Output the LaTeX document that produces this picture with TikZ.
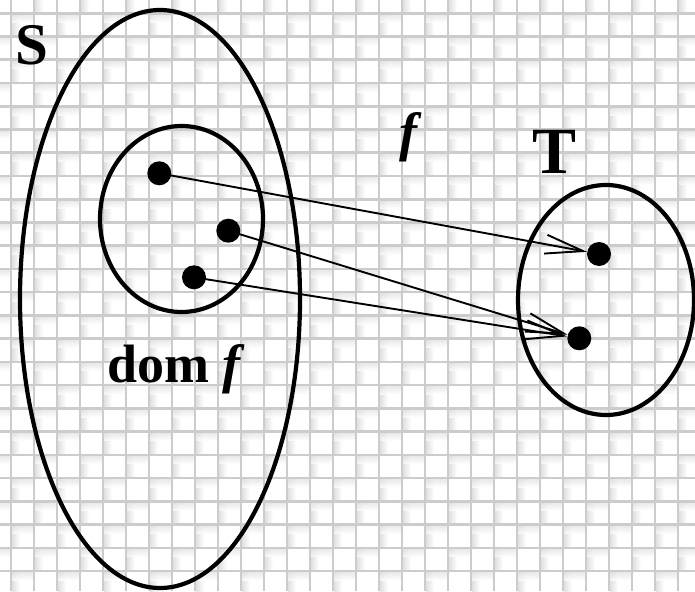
\documentclass[tikz,border=0pt]{standalone}
\usepackage{fontspec}
\setmainfont{Liberation Serif}
\usetikzlibrary{arrows.meta,shapes.geometric}
\begin{document}
\begin{tikzpicture}[x=1pt,y=-1pt,
  dot/.style={circle,fill=black,inner sep=0pt,minimum size=24pt},
  setline/.style={draw,ellipse,line width=4.2pt,inner sep=0pt},
  map/.style={line width=1.9pt,-{Straight Barb[length=38pt,width=19pt,line width=1.9pt]}},
  lab/.style={inner sep=0pt},
  gridline/.style={line width=2.6pt,color=black!20}]
\useasboundingbox (0,0) rectangle (695,591);
\fill[white] (0,0) rectangle (695,591);
\begin{scope}
\clip (0,0) rectangle (695,591);
\foreach \i in {-1,...,29} {
  \foreach \j in {-1,...,24} {
    \pgfmathtruncatemacro\pp{mod(\i+\j+2,2)}
    \ifnum\pp=0
      \pgfmathsetmacro\xx{11+23*\i}
      \pgfmathsetmacro\yy{13.3+23.24*\j}
      \shade[left color=black!12,right color=white] (\xx+1,\yy+1) rectangle (\xx+9,\yy+22.5);
      \shade[top color=black!12,bottom color=white,opacity=0.7] (\xx+1,\yy+1) rectangle (\xx+22,\yy+9);
    \fi
  }
}
\foreach \k in {0,...,29} \draw[gridline] ({11+23*\k},0) -- ({11+23*\k},591);
\foreach \k in {0,...,24} \draw[gridline] (0,{13.3+23.24*\k}) -- (695,{13.3+23.24*\k});
\end{scope}
% sets
\node[setline,minimum width=280pt,minimum height=578pt] (S) at (160,299) {};
\node[setline,minimum width=163pt,minimum height=186pt] (D) at (181.5,219) {};
\node[setline,minimum width=176pt,minimum height=230pt] (T) at (606,300) {};
% points
\node[dot] (a1) at (159.3,173.3) {};
\node[dot] (a2) at (228.3,230.7) {};
\node[dot] (a3) at (194,277.3) {};
\node[dot] (b1) at (599,254) {};
\node[dot] (b2) at (579.3,338.3) {};
% mapping
\draw[map] (a1.center) -- (b1);
\draw[map] (a2.center) -- (b2);
\draw[map] (a3.center) -- (b2);
% labels
\node[lab,font=\fontsize{59}{59}\selectfont\bfseries,anchor=base west] (lS) at (15,65) {S};
\node[lab,font=\fontsize{66}{66}\selectfont\bfseries,anchor=base west] (lT) at (532,173) {T};
\node[lab,font=\fontsize{54}{54}\selectfont\bfseries\itshape,anchor=base west] (lf) at (399,150) {f};
\node[lab,font=\fontsize{54}{54}\selectfont\bfseries,anchor=base west] (ldom) at (107,382) {dom \itshape f};
\end{tikzpicture}
\end{document}
